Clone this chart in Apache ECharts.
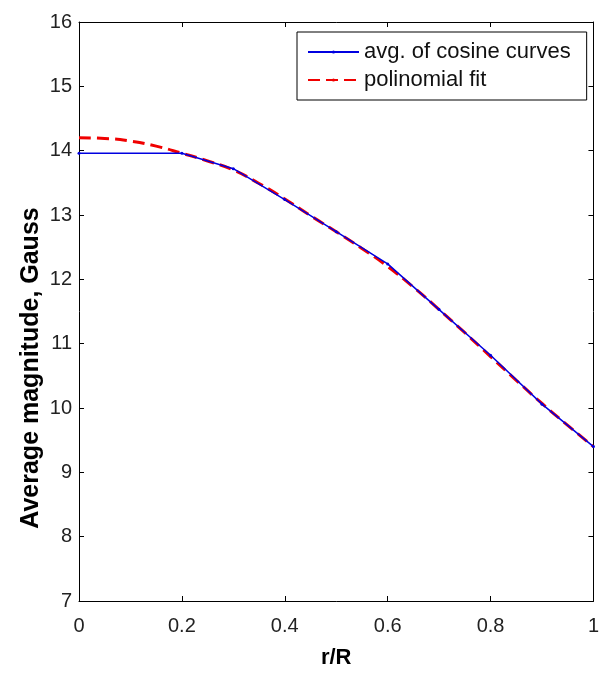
<!DOCTYPE html>
<html><head><meta charset="utf-8">
<script src="https://cdn.jsdelivr.net/npm/echarts@6/dist/echarts.min.js"></script>
<style>html,body{margin:0;padding:0;background:#fff}#c{width:602px;height:674px}</style>
</head><body><div id="c"></div>
<script>
const avgX = [0, 0.2, 0.3, 0.4, 0.5, 0.6, 0.7, 0.8, 0.9, 1.0];
const avgY = [13.96, 13.96, 13.72, 13.24, 12.74, 12.24, 11.53, 10.82, 10.06, 9.40];
const fitX = [0, 0.05, 0.1, 0.15, 0.2, 0.25, 0.3, 0.35, 0.4, 0.45, 0.5, 0.55, 0.6, 0.65, 0.7, 0.75, 0.8, 0.85, 0.9, 0.95, 1.0];
const fitY = [14.20, 14.19, 14.15, 14.07, 13.96, 13.84, 13.70, 13.49, 13.25, 12.99, 12.74, 12.48, 12.20, 11.88, 11.53, 11.17, 10.80, 10.43, 10.07, 9.73, 9.40];
const seriesNames = ['avg. of cosine curves', 'polinomial fit'];
const xTitle = 'r/R';
const yTitle = 'Average magnitude, Gauss';

const font = 'Liberation Sans, Arial, sans-serif';
const chart = echarts.init(document.getElementById('c'));
const axisLine = {show: true, onZero: false, lineStyle: {color: '#000', width: 1}};
const tick = {show: true, inside: true, length: 5, lineStyle: {color: '#000'}};
chart.setOption({
  animation: false,
  backgroundColor: '#fff',
  grid: {left: 79, right: 6, top: 22, bottom: 65, containLabel: false},
  legend: {
    orient: 'vertical', left: 297, top: 32,
    borderColor: '#000', borderWidth: 1, backgroundColor: '#fff',
    padding: [9, 16, 9, 10], itemGap: 6, itemWidth: 51, itemHeight: 4,
    textStyle: {fontFamily: font, fontSize: 22, color: '#111', padding: [0, 0, 0, 0]},
    data: seriesNames
  },
  graphic: [{
    type: 'text', rotation: Math.PI / 2, x: 31, y: 368,
    style: {text: yTitle, fontFamily: font, fontSize: 25, fontWeight: 'bold',
      fill: '#000', align: 'center', verticalAlign: 'middle'}
  }],
  xAxis: [{
    type: 'value', min: 0, max: 1, interval: 0.2, position: 'bottom',
    name: xTitle, nameLocation: 'middle', nameGap: 46,
    nameTextStyle: {fontFamily: font, fontSize: 22, fontWeight: 'bold', color: '#000'},
    axisLine, axisTick: tick, splitLine: {show: false},
    axisLabel: {fontFamily: font, fontSize: 20, color: '#222', margin: 15,
      formatter: v => String(Math.round(v * 10) / 10)}
  }, {
    type: 'value', min: 0, max: 1, interval: 0.2, position: 'top',
    axisLine, axisTick: tick, axisLabel: {show: false}, splitLine: {show: false}
  }],
  yAxis: [{
    type: 'value', min: 7, max: 16, interval: 1, position: 'left',
    axisLine, axisTick: tick, splitLine: {show: false},
    axisLabel: {fontFamily: font, fontSize: 20, color: '#222', margin: 7}
  }, {
    type: 'value', min: 7, max: 16, interval: 1, position: 'right',
    axisLine, axisTick: tick, axisLabel: {show: false}, splitLine: {show: false}
  }],
  series: [{
    name: seriesNames[0], type: 'line', xAxisIndex: 0, yAxisIndex: 0,
    data: avgX.map((x, i) => [x, avgY[i]]),
    symbol: 'circle', symbolSize: 3, showSymbol: true,
    itemStyle: {color: '#0000e0'},
    lineStyle: {color: '#0000e0', width: 1.5}, z: 3
  }, {
    name: seriesNames[1], type: 'line', xAxisIndex: 0, yAxisIndex: 0,
    data: fitX.map((x, i) => [x, fitY[i]]),
    smooth: true, symbol: 'none',
    itemStyle: {color: '#f00000'},
    lineStyle: {color: '#f00000', width: 3, type: [12, 6]}, z: 2
  }]
});
</script></body></html>
